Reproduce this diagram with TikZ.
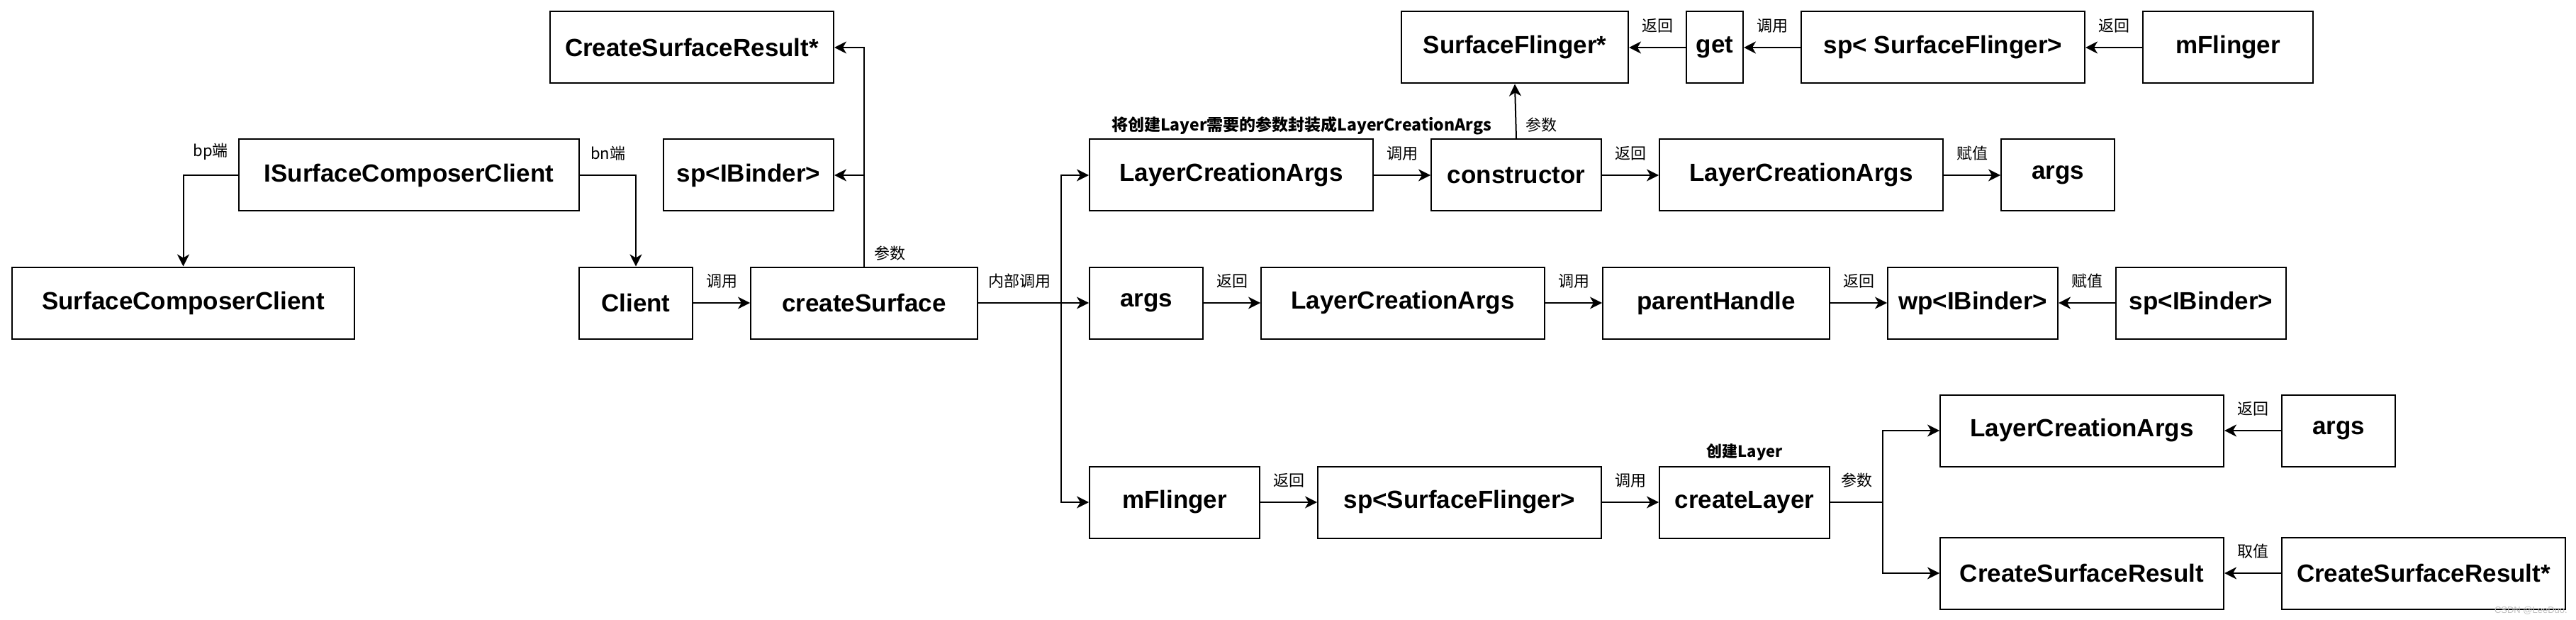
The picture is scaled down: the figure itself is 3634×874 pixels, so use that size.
\documentclass[tikz,border=0pt]{standalone}
\usepackage{fontspec}
\setmainfont{Liberation Sans}
\newfontfamily\cjkfont{Noto Sans CJK SC}
\usetikzlibrary{arrows.meta,positioning}

\begin{document}
\begin{tikzpicture}[
        x=1pt, y=-1pt,
        node distance=80pt,
        box/.style={draw, line width=2pt, minimum height=101pt, inner sep=0pt, font=\fontsize{35}{40}\selectfont\bfseries},
        wd/.style={minimum width=#1},
        arrow/.style={-{Stealth[length=17pt,width=17pt,inset=5pt]}, line width=2pt},
        line/.style={line width=2pt},
        lab/.style={font=\cjkfont\fontsize{22}{24}\selectfont, inner sep=1pt},
        boldlab/.style={lab, font=\cjkfont\bfseries\fontsize{23}{24}\selectfont}
    ]
        \useasboundingbox (0,0) rectangle (3634,874);

        % client side
        \node[box, wd=480pt, anchor=west] (iscc) at (336,247) {ISurfaceComposerClient};
        \node[box, wd=483pt, anchor=west] (scc) at (16,427) {SurfaceComposerClient};
        \node[box, wd=160pt, anchor=west] (client) at (816,427) {Client};
        \node[box, wd=320pt, right=of client] (cs) {createSurface};
        \node[box, wd=400pt, anchor=east] (csrtop) at (1177,67) {CreateSurfaceResult*};
        \node[box, wd=240pt, anchor=east] (spib) at (1177,247) {sp<IBinder>};

        % SurfaceFlinger side
        \node[box, wd=320pt, anchor=west] (sf) at (1976,67) {SurfaceFlinger*};
        \node[box, wd=80pt, right=of sf] (get) {get};
        \node[box, wd=400pt, right=of get] (spsf1) {sp< SurfaceFlinger>};
        \node[box, wd=240pt, right=of spsf1] (mfl1) {mFlinger};

        \node[box, wd=400pt, anchor=west] (lca1) at (1536,247) {LayerCreationArgs};
        \node[box, wd=240pt, right=of lca1] (ctor) {constructor};
        \node[box, wd=400pt, right=of ctor] (lca1b) {LayerCreationArgs};
        \node[box, wd=160pt, right=of lca1b] (args1) {args};
        \node[boldlab] (note) at (1836,177) {将创建Layer需要的参数封装成LayerCreationArgs};

        \node[box, wd=160pt, anchor=west] (args2) at (1536,427) {args};
        \node[box, wd=400pt, right=of args2] (lca2) {LayerCreationArgs};
        \node[box, wd=320pt, right=of lca2] (ph) {parentHandle};
        \node[box, wd=240pt, right=of ph] (wp) {wp<IBinder>};
        \node[box, wd=240pt, right=of wp] (spib2) {sp<IBinder>};

        \node[box, wd=240pt, anchor=west] (mfl2) at (1536,708) {mFlinger};
        \node[box, wd=400pt, right=of mfl2] (spsf2) {sp<SurfaceFlinger>};
        \node[box, wd=240pt, right=of spsf2, label={[boldlab, font=\cjkfont\bfseries\fontsize{22}{24}\selectfont, label distance=6pt]above:创建Layer}] (cl) {createLayer};
        \node[box, wd=400pt, anchor=west] (lca3) at (2736,607) {LayerCreationArgs};
        \node[box, wd=160pt, right=of lca3] (args3) {args};
        \node[box, wd=400pt, anchor=west] (csr) at (2736,808) {CreateSurfaceResult};
        \node[box, wd=400pt, right=of csr] (csrs) {CreateSurfaceResult*};

        \coordinate (split) at (1497,427);
        \coordinate (split2) at (2656,708);
        \node[font=\fontsize{13}{13}\selectfont, text=black!25, anchor=south east, inner sep=0pt] (mark) at (3622,866) {CSDN @LeeDuo.};

        % connectors
        \draw[arrow] (iscc.west) -| node[lab, pos=0.25, above=19pt]{bp端} (scc.north);
        \draw[arrow] (iscc.east) -| node[lab, pos=0.25, above=19pt]{bn端} (client.north);
        \draw[arrow] (client) -- node[lab, above=19pt]{调用} (cs);
        \draw[arrow] (cs.north) |- node[lab, pos=0, above right=6pt and 12pt]{参数} (csrtop.east);
        \draw[arrow] (cs.north) |- (spib.east);
        \draw[line] (cs.east) -- node[lab, above=19pt]{内部调用} (split);
        \draw[arrow] (split) -- (args2);
        \draw[arrow] (split) |- (lca1.west);
        \draw[arrow] (split) |- (mfl2.west);

        \draw[arrow] (ctor.north) -- node[lab, pos=0.25, right=12pt]{参数} (sf.south);
        \draw[arrow] (mfl1) -- node[lab, above=19pt]{返回} (spsf1);
        \draw[arrow] (spsf1) -- node[lab, above=19pt]{调用} (get);
        \draw[arrow] (get) -- node[lab, above=19pt]{返回} (sf);
        \draw[arrow] (lca1) -- node[lab, above=19pt]{调用} (ctor);
        \draw[arrow] (ctor) -- node[lab, above=19pt]{返回} (lca1b);
        \draw[arrow] (lca1b) -- node[lab, above=19pt]{赋值} (args1);

        \draw[arrow] (args2) -- node[lab, above=19pt]{返回} (lca2);
        \draw[arrow] (lca2) -- node[lab, above=19pt]{调用} (ph);
        \draw[arrow] (ph) -- node[lab, above=19pt]{返回} (wp);
        \draw[arrow] (spib2) -- node[lab, above=19pt]{赋值} (wp);

        \draw[arrow] (mfl2) -- node[lab, above=19pt]{返回} (spsf2);
        \draw[arrow] (spsf2) -- node[lab, above=19pt]{调用} (cl);
        \draw[line] (cl.east) -- node[lab, above=19pt]{参数} (split2);
        \draw[arrow] (split2) |- (lca3.west);
        \draw[arrow] (split2) |- (csr.west);
        \draw[arrow] (args3) -- node[lab, above=19pt]{返回} (lca3);
        \draw[arrow] (csrs) -- node[lab, above=19pt]{取值} (csr);
    \end{tikzpicture}
\end{document}
